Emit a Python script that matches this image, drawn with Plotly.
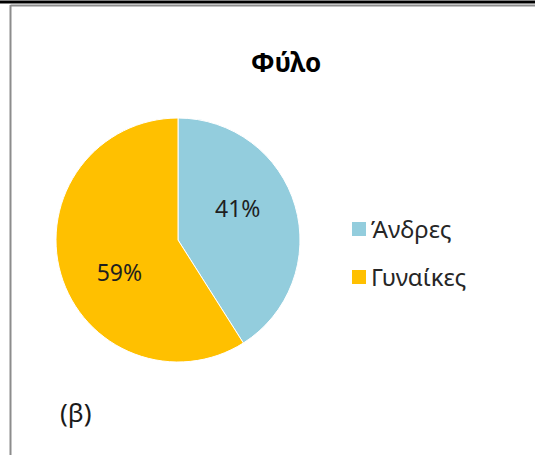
import plotly.graph_objects as go

categories = ["Άνδρες", "Γυναίκες"]
values = [41, 59]
colors = ["#93CDDD", "#FFC000"]
title_text = "Φύλο"
panel_label = "(β)"

W, H = 535, 455
FONT = "Noto Sans"

fig = go.Figure()
fig.add_trace(go.Pie(
    labels=categories,
    values=values,
    sort=False,
    direction="clockwise",
    rotation=0,
    marker=dict(colors=colors, line=dict(color="white", width=1)),
    textinfo="percent",
    texttemplate=["%{percent:.0%}<br> ", " <br>%{percent:.0%}"],
    textposition="inside",
    insidetextorientation="horizontal",
    textfont=dict(family=FONT, size=23, color="#1f1f1f"),
    domain=dict(x=[56 / W, 300 / W], y=[(H - 362) / H, (H - 118) / H]),
    showlegend=False,
    hoverinfo="label+percent",
))

shapes = [
    dict(type="line", xref="paper", yref="paper", x0=0, x1=1, y0=1 - 2 / H, y1=1 - 2 / H,
         line=dict(color="black", width=3)),
    dict(type="line", xref="paper", yref="paper", x0=10.5 / W, x1=1, y0=1 - 5.5 / H, y1=1 - 5.5 / H,
         line=dict(color="#8c8c8c", width=2)),
    dict(type="line", xref="paper", yref="paper", x0=10.5 / W, x1=10.5 / W, y0=0, y1=1 - 5 / H,
         line=dict(color="#8c8c8c", width=2)),
]
annotations = [
    dict(text="<b>" + title_text + "</b>", x=286 / W, y=1 - 62 / H, xref="paper", yref="paper",
         showarrow=False, font=dict(family=FONT, size=26, color="black"), xanchor="center", yanchor="middle"),
    dict(text=panel_label, x=58 / W, y=1 - 412 / H, xref="paper", yref="paper",
         showarrow=False, font=dict(family=FONT, size=26, color="#1a1a1a"), xanchor="left", yanchor="middle"),
]
legend_y = [229, 277]
for name, col, yy in zip(categories, colors, legend_y):
    shapes.append(dict(type="rect", xref="paper", yref="paper",
                       x0=352 / W, x1=366 / W, y0=1 - (yy + 7) / H, y1=1 - (yy - 7) / H,
                       fillcolor=col, line=dict(width=0)))
    annotations.append(dict(text=name, x=369 / W, y=1 - (yy - 1) / H, xref="paper", yref="paper",
                            showarrow=False, font=dict(family=FONT, size=24, color="#262626"),
                            xanchor="left", yanchor="middle"))

fig.update_layout(
    width=W, height=H,
    margin=dict(l=0, r=0, t=0, b=0),
    paper_bgcolor="white",
    shapes=shapes,
    annotations=annotations,
)

fig.write_html("out.html", config={"displayModeBar": False},
               post_script="document.body.style.margin='0';document.body.style.overflow='hidden';")
